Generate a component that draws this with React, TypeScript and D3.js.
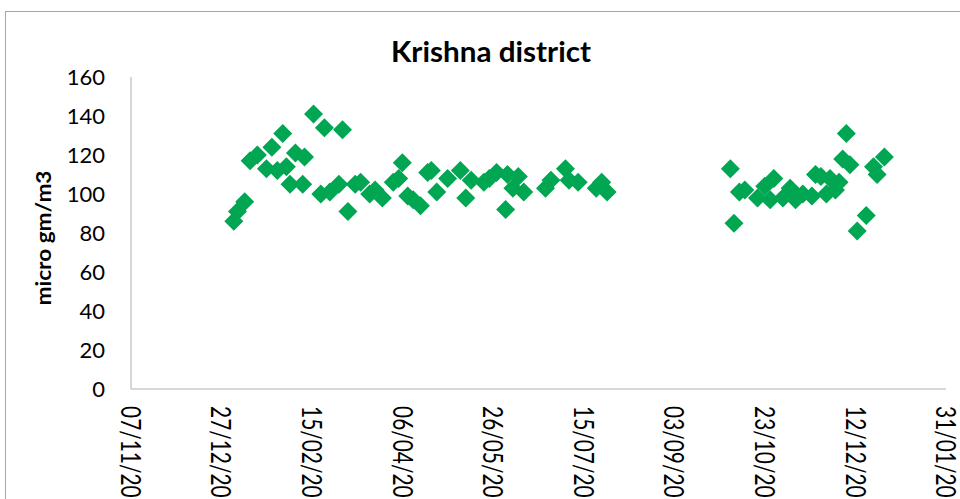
import React from "react";
import * as d3 from "d3";

const dates = ["2013-01-03","2013-01-05","2013-01-09","2013-01-12","2013-01-16","2013-01-21","2013-01-24","2013-01-27","2013-01-30","2013-02-01","2013-02-03","2013-02-06","2013-02-10","2013-02-11","2013-02-16","2013-02-20","2013-02-22","2013-02-25","2013-03-02","2013-03-04","2013-03-07","2013-03-11","2013-03-14","2013-03-19","2013-03-22","2013-03-26","2013-04-01","2013-04-04","2013-04-06","2013-04-09","2013-04-12","2013-04-16","2013-04-20","2013-04-22","2013-04-25","2013-05-01","2013-05-08","2013-05-11","2013-05-14","2013-05-21","2013-05-24","2013-05-28","2013-06-02","2013-06-03","2013-06-06","2013-06-09","2013-06-12","2013-06-24","2013-06-27","2013-07-05","2013-07-07","2013-07-12","2013-07-22","2013-07-25","2013-07-28","2013-10-04","2013-10-06","2013-10-09","2013-10-12","2013-10-19","2013-10-23","2013-10-26","2013-10-28","2013-11-02","2013-11-06","2013-11-09","2013-11-13","2013-11-18","2013-11-20","2013-11-23","2013-11-26","2013-11-28","2013-12-01","2013-12-03","2013-12-05","2013-12-07","2013-12-09","2013-12-13","2013-12-18","2013-12-22","2013-12-24","2013-12-28"];

const values = [86,91,96,117,120,113,124,112,131,114,105,121,105,119,141,100,134,101,105,133,91,105,106,100,102,98,106,108,116,99,97,94,111,112,101,108,112,98,107,106,108,111,92,110,103,109,101,103,107,113,107,106,103,106,101,113,85,101,102,98,104,97,108,98,103,97,100,99,110,109,100,108,102,106,118,131,115,81,89,114,110,119];

const xStart = "2012-11-07";
const xEnd = "2014-01-31";
const xTickStepDays = 50;
const yTicks = [0, 20, 40, 60, 80, 100, 120, 140, 160];
const title = "Krishna district";
const yTitle = "micro gm/m3";

const parse = d3.utcParse("%Y-%m-%d");
const fmt = d3.utcFormat("%d/%m/%Y");

export default function App() {
  const x = d3.scaleUtc().domain([parse(xStart)!, parse(xEnd)!]).range([130.5, 946]);
  const y = d3.scaleLinear().domain([0, 160]).range([389, 77]);
  const xTicks = d3.utcDay.range(parse(xStart)!, d3.utcDay.offset(parse(xEnd)!, 1), xTickStepDays);
  const r = 9.5;
  const diamond = `M0,${-r}L${r},0L0,${r}L${-r},0Z`;
  const font = "Lato, 'Open Sans', sans-serif";
  return (
    <div style={{ position: "absolute", left: 0, top: 0 }}>
      <svg width={960} height={499} style={{ display: "block", background: "#fff" }}>
        <rect x={5.5} y={11.5} width={1000} height={600} fill="#fff" stroke="#a6a6a6" strokeWidth={1} />
        <text x={491} y={62} textAnchor="middle" fontFamily={font} fontWeight={700} fontSize={28}
          textLength={200} lengthAdjust="spacingAndGlyphs" fill="#000">{title}</text>
        <text transform={`translate(51,238) rotate(-90)`} textAnchor="middle" fontFamily={font}
          fontWeight={700} fontSize={21} textLength={135} lengthAdjust="spacingAndGlyphs" fill="#000">{yTitle}</text>
        <line x1={131} x2={131} y1={y(160)} y2={y(0)} stroke="#b0b0b0" strokeWidth={1} />
        <line x1={131} x2={946} y1={y(0)} y2={y(0)} stroke="#b0b0b0" strokeWidth={1} />
        {yTicks.map((t) => (
          <text key={t} x={105} y={y(t)} dy="0.36em" textAnchor="end" fontFamily={font} fontSize={22} fill="#000">{t}</text>
        ))}
        {xTicks.map((t, i) => (
          <text key={i} transform={`translate(${x(t)},406) rotate(90)`} dy="0.36em" textAnchor="start"
            fontFamily={font} fontSize={27} textLength={116} lengthAdjust="spacingAndGlyphs" fill="#000">{fmt(t)}</text>
        ))}
        {dates.map((d, i) => (
          <path key={i} d={diamond} transform={`translate(${x(parse(d)!)},${y(values[i])})`} fill="#00a651" />
        ))}
      </svg>
    </div>
  );
}
